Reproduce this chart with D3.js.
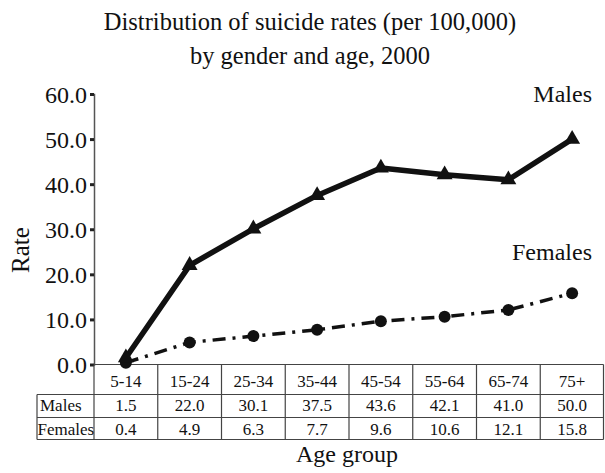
<!DOCTYPE html>
<html>
<head>
<meta charset="utf-8">
<script src="https://cdn.jsdelivr.net/npm/d3@7/dist/d3.min.js"></script>
<style>
  html, body { margin: 0; padding: 0; background: #fff; }
  svg { display: block; }
  text { font-family: "Liberation Serif", "Times New Roman", serif; fill: #111; }
</style>
</head>
<body>
<svg id="chart" width="605" height="473"></svg>
<script>
// ---- data ----
const categories = ["5-14", "15-24", "25-34", "35-44", "45-54", "55-64", "65-74", "75+"];
const males = [1.5, 22.0, 30.1, 37.5, 43.6, 42.1, 41.0, 50.0];
const females = [0.4, 4.9, 6.3, 7.7, 9.6, 10.6, 12.1, 15.8];
const yTicks = [0, 10, 20, 30, 40, 50, 60];
const titleLines = ["Distribution of suicide rates (per 100,000)", "by gender and age, 2000"];
const rowLabels = ["Males", "Females"];

// ---- layout ----
const svg = d3.select("#chart");
const x = d3.scaleBand().domain(categories).range([94, 604]).padding(0);
const y = d3.scaleLinear().domain([0, 60]).range([364.5, 94]);

// title
svg.selectAll("text.title").data(titleLines).join("text")
  .attr("class", "title")
  .attr("x", 310).attr("y", (d, i) => 30 + i * 33.5)
  .attr("text-anchor", "middle")
  .style("font-size", "24.5px")
  .text(d => d);

// y axis
const yAxis = d3.axisLeft(y).tickValues(yTicks).tickFormat(d3.format(".1f"))
  .tickSize(4).tickPadding(3);
const gy = svg.append("g").attr("transform", "translate(94,0)").call(yAxis);
gy.select(".domain").attr("stroke", "#555").attr("stroke-width", 1.5);
gy.selectAll(".tick line").attr("stroke", "#222").attr("stroke-width", 3);
gy.selectAll(".tick text").style("font-size", "24px")
  .style("font-family", "'Liberation Serif', 'Times New Roman', serif")
  .attr("fill", "#111").attr("dy", "0.34em");

// axis title
svg.append("text")
  .attr("transform", "translate(29,250) rotate(-90)")
  .attr("text-anchor", "middle")
  .style("font-size", "25px")
  .text("Rate");

svg.append("text")
  .attr("x", 347).attr("y", 462)
  .attr("text-anchor", "middle")
  .style("font-size", "24px")
  .text("Age group");

// ---- table ----
const rowY = [364.5, 394.5, 417.5, 439.5];
const table = svg.append("g").attr("stroke", "#444").attr("stroke-width", 1.2);
rowY.forEach((ry, i) => {
  table.append("line")
    .attr("x1", i === 0 ? 94 : 37).attr("x2", 603.5)
    .attr("y1", ry).attr("y2", ry);
});
const bounds = categories.map(c => x(c)).concat([x.range()[1] - 0.5]);
bounds.forEach(bx => {
  table.append("line").attr("x1", bx).attr("x2", bx).attr("y1", rowY[0]).attr("y2", rowY[3]);
});
table.append("line").attr("x1", 37).attr("x2", 37).attr("y1", rowY[1]).attr("y2", rowY[3]);

const cellFont = "17px";
svg.selectAll("text.cat").data(categories).join("text")
  .attr("class", "cat")
  .attr("x", d => x(d) + x.bandwidth() / 2).attr("y", 387)
  .attr("text-anchor", "middle").style("font-size", cellFont).text(d => d);
svg.selectAll("text.mval").data(males).join("text")
  .attr("class", "mval")
  .attr("x", (d, i) => x(categories[i]) + x.bandwidth() / 2).attr("y", 411)
  .attr("text-anchor", "middle").style("font-size", cellFont).text(d => d.toFixed(1));
svg.selectAll("text.fval").data(females).join("text")
  .attr("class", "fval")
  .attr("x", (d, i) => x(categories[i]) + x.bandwidth() / 2).attr("y", 435)
  .attr("text-anchor", "middle").style("font-size", cellFont).text(d => d.toFixed(1));
svg.selectAll("text.rowlab").data(rowLabels).join("text")
  .attr("class", "rowlab")
  .attr("x", (d, i) => i === 0 ? 40 : 37.5).attr("y", (d, i) => i === 0 ? 411 : 435)
  .style("font-size", cellFont).text(d => d);

// ---- lines ----
const cx = (d, i) => x(categories[i]) + x.bandwidth() / 2;
const line = d3.line().x(cx).y(d => y(d));

svg.append("path").datum(females)
  .attr("d", line).attr("fill", "none")
  .attr("stroke", "#111").attr("stroke-width", 3.5)
  .attr("stroke-dasharray", "13,7,3,7");
svg.selectAll("circle.f").data(females).join("circle")
  .attr("class", "f")
  .attr("cx", cx).attr("cy", d => y(d)).attr("r", 6).attr("fill", "#111");

svg.append("path").datum(males)
  .attr("d", line).attr("fill", "none")
  .attr("stroke", "#111").attr("stroke-width", 5.5).attr("stroke-linejoin", "round");
const tri = d3.symbol().type(d3.symbolTriangle).size(110);
svg.selectAll("path.m").data(males).join("path")
  .attr("class", "m")
  .attr("transform", (d, i) => `translate(${cx(d, i)},${y(d)})`)
  .attr("d", tri).attr("fill", "#111");

// series labels
svg.append("text").attr("x", 592).attr("y", 102).attr("text-anchor", "end")
  .style("font-size", "24px").text("Males");
svg.append("text").attr("x", 592).attr("y", 260).attr("text-anchor", "end")
  .style("font-size", "24px").text("Females");
</script>
</body>
</html>
